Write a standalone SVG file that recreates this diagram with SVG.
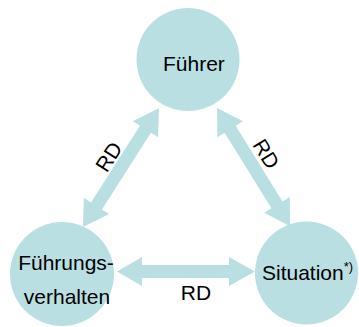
<svg xmlns="http://www.w3.org/2000/svg" width="359" height="327" viewBox="0 0 359 327">
<style>
.node{fill:#b9dfe3}
.arrow{fill:#b9dfe3}
text{font-family:"Liberation Sans",Arial,sans-serif;fill:#000}
.lbl{font-size:21px}
.rd{font-size:21px}
.sup{font-size:13px}
</style>
<rect width="359" height="327" fill="#fff"/>
<g id="connectors">
<polygon class="arrow" transform="translate(83,227) rotate(-57.43)" points="0,0 25,-15 25,-6.5 116,-6.5 116,-15 141,0 116,15 116,6.5 25,6.5 25,15"/>
<polygon class="arrow" transform="translate(217,108) rotate(58.26)" points="0,0 25,-15 25,-6.5 114,-6.5 114,-15 139,0 114,15 114,6.5 25,6.5 25,15"/>
<polygon class="arrow" transform="translate(117,271.5)" points="0,0 25,-14.5 25,-6.5 112,-6.5 112,-14.5 138,0 112,14.5 112,6.5 25,6.5 25,14.5"/>
<text class="rd" transform="translate(109,157) rotate(-57.5)" text-anchor="middle" dy="7">RD</text>
<text class="rd" transform="translate(266,154) rotate(58.3)" text-anchor="middle" dy="7">RD</text>
<text class="rd" x="196" y="300" text-anchor="middle">RD</text>
</g>
<g id="fuehrer">
<circle class="node" cx="188" cy="59.5" r="51.5"/>
<text class="lbl" x="163" y="71">Führer</text>
</g>
<g id="fuehrungsverhalten">
<circle class="node" cx="62" cy="274" r="52"/>
<text class="lbl" x="66" y="270" text-anchor="middle">Führungs-</text>
<text class="lbl" x="67" y="304" text-anchor="middle">verhalten</text>
</g>
<g id="situation">
<circle class="node" cx="306.5" cy="273" r="51.5"/>
<text class="lbl" x="262" y="280">Situation<tspan class="sup" dy="-9">*)</tspan></text>
</g>
</svg>
